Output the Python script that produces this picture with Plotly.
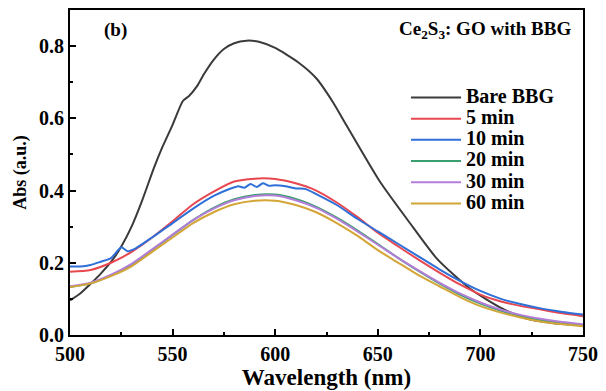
import plotly.graph_objects as go

# Absorbance spectra of BBG dye degradation with Ce2S3:GO
wl_bare = [500, 505, 511, 515, 521, 525, 530, 535, 541, 545, 550, 555, 558, 562,
           565, 570, 575, 580, 586, 592, 600, 611, 620, 628, 635, 651, 665, 679,
           695, 710, 722, 735, 750]
abs_bare = [0.096, 0.115, 0.147, 0.170, 0.210, 0.245, 0.300, 0.370, 0.464, 0.520,
            0.582, 0.648, 0.662, 0.690, 0.720, 0.762, 0.792, 0.808, 0.815, 0.812,
            0.795, 0.756, 0.711, 0.646, 0.578, 0.425, 0.315, 0.210, 0.128, 0.075,
            0.046, 0.033, 0.027]

wl_10 = [500, 505, 510, 515, 520, 525, 528, 532, 540, 550, 560, 570, 578, 582,
         585, 588, 591, 594, 597, 600, 605, 610, 615, 620, 630, 640, 650, 660,
         670, 680, 690, 700, 710, 720, 730, 740, 750]
abs_10 = [0.190, 0.190, 0.194, 0.203, 0.213, 0.243, 0.232, 0.240, 0.270, 0.310,
          0.350, 0.385, 0.405, 0.412, 0.408, 0.418, 0.410, 0.420, 0.413, 0.415,
          0.412, 0.406, 0.404, 0.390, 0.360, 0.322, 0.287, 0.252, 0.217, 0.182,
          0.150, 0.122, 0.100, 0.085, 0.073, 0.064, 0.057]

wl = [500, 510, 520, 530, 540, 550, 560, 570, 580, 590, 600, 610, 620, 630, 640,
      650, 660, 670, 680, 690, 700, 710, 720, 730, 740, 750]
abs_5 = [0.175, 0.180, 0.200, 0.230, 0.270, 0.315, 0.362, 0.397, 0.425, 0.433,
         0.432, 0.420, 0.400, 0.367, 0.327, 0.283, 0.245, 0.208, 0.173, 0.140,
         0.112, 0.093, 0.080, 0.070, 0.060, 0.052]
abs_20 = [0.133, 0.143, 0.165, 0.195, 0.235, 0.277, 0.318, 0.352, 0.376, 0.388,
          0.389, 0.377, 0.355, 0.325, 0.290, 0.252, 0.213, 0.177, 0.143, 0.112,
          0.087, 0.067, 0.052, 0.040, 0.032, 0.026]
abs_30 = [0.135, 0.145, 0.167, 0.197, 0.237, 0.278, 0.318, 0.350, 0.373, 0.385,
          0.386, 0.373, 0.352, 0.322, 0.287, 0.250, 0.213, 0.178, 0.145, 0.115,
          0.090, 0.070, 0.055, 0.044, 0.036, 0.030]
abs_60 = [0.133, 0.143, 0.163, 0.190, 0.230, 0.270, 0.310, 0.340, 0.362, 0.372,
          0.372, 0.360, 0.340, 0.310, 0.275, 0.235, 0.200, 0.165, 0.135, 0.105,
          0.080, 0.062, 0.048, 0.037, 0.030, 0.024]

x_ticks = [500, 550, 600, 650, 700, 750]
y_ticks = [0.0, 0.2, 0.4, 0.6, 0.8]

series = [
    ("Bare BBG", wl_bare, abs_bare, "#3a3a3a"),
    ("5 min", wl, abs_5, "#e8474f"),
    ("10 min", wl_10, abs_10, "#2f6fd8"),
    ("20 min", wl, abs_20, "#3a9e6e"),
    ("30 min", wl, abs_30, "#b27ed8"),
    ("60 min", wl, abs_60, "#d4a537"),
]

FONT = "Liberation Serif"

fig = go.Figure()
for name, xs, ys, color in series:
    fig.add_trace(go.Scatter(
        x=xs, y=ys, mode="lines",
        # larger label text inside a compact legend row
        name=f'<span style="font-size:20px">{name}</span>',
        line=dict(color=color, width=2, shape="spline", smoothing=0.6),
    ))

axis_common = dict(
    showline=True, linecolor="black", linewidth=2, mirror=True,
    ticks="inside", ticklen=6, tickwidth=2, tickcolor="black",
    showgrid=False, zeroline=False,
    tickfont=dict(family=FONT, size=20, color="black", weight="bold"),
)

fig.update_xaxes(
    range=[500, 750], tickvals=x_ticks,
    minor=dict(ticks="inside", ticklen=3, tickwidth=2, tickcolor="black", dtick=25),
    title=dict(text="Wavelength (nm)", standoff=2,
               font=dict(family=FONT, size=23, color="black", weight="bold")),
    **axis_common,
)
fig.update_yaxes(
    range=[0, 0.9], tickvals=y_ticks, tickformat=".1f",
    minor=dict(ticks="inside", ticklen=3, tickwidth=2, tickcolor="black", dtick=0.1),
    title=dict(text="Abs (a.u.)", standoff=8,
               font=dict(family=FONT, size=18, color="black", weight="bold")),
    **axis_common,
)

fig.add_annotation(
    x=0.089, y=0.939, xref="paper", yref="paper", showarrow=False,
    xanchor="center", yanchor="middle",
    text="(b)", font=dict(family=FONT, size=19, color="black", weight="bold"),
)
fig.add_annotation(
    x=0.98, y=0.939, xref="paper", yref="paper", showarrow=False,
    xanchor="right", yanchor="middle",
    text="Ce<sub>2</sub>S<sub>3</sub>: GO with BBG",
    font=dict(family=FONT, size=19, color="black", weight="bold"),
)

fig.update_layout(
    width=606, height=391,
    margin=dict(l=70, r=19, t=8, b=54),
    paper_bgcolor="white", plot_bgcolor="white",
    showlegend=True,
    legend=dict(
        x=0.655, y=0.779, xanchor="left", yanchor="top",
        bgcolor="rgba(0,0,0,0)", itemwidth=50, tracegroupgap=0,
        font=dict(family=FONT, size=14, color="black", weight="bold"),
    ),
)

fig.write_html("out.html")
